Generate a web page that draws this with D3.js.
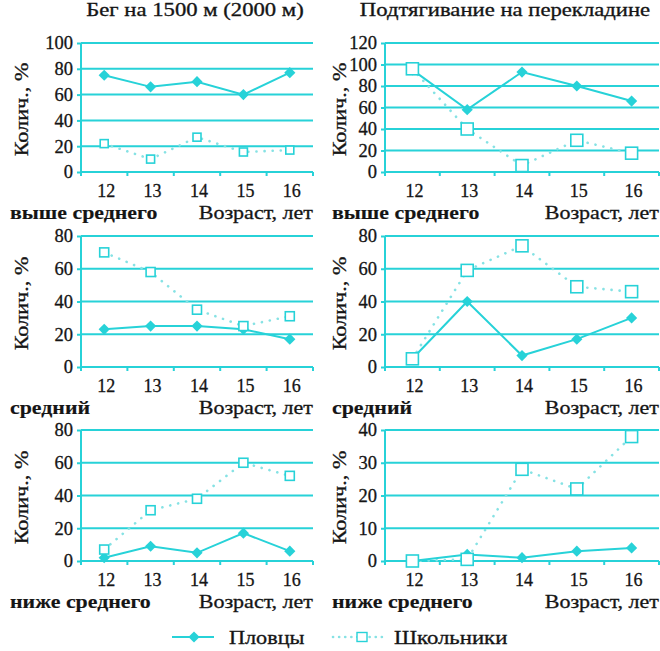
<!DOCTYPE html>
<html><head><meta charset="utf-8">
<script src="https://cdn.jsdelivr.net/npm/d3@7"></script>
<style>
html,body{margin:0;padding:0;background:#fff;}
svg text{font-family:'Liberation Serif','Times New Roman',serif;fill:#151515;}
</style></head>
<body><svg id="c" width="660" height="651"></svg>
<script>
// ---- data ----
const ages = ["12","13","14","15","16"];
const seriesNames = ["Пловцы","Школьники"];
const titles = ["Бег на 1500 м (2000 м)","Подтягивание на перекладине"];
const levelLabels = ["выше среднего","средний","ниже среднего"];
const xAxisLabel = "Возраст, лет";
const yAxisLabel = "Колич., %";

const runAboveSwim   = [75, 66, 70, 60, 77];
const runAboveSchool = [22, 10, 27, 15.5, 17];
const pullAboveSwim   = [95, 58, 93, 80, 66];
const pullAboveSchool = [96, 40, 6, 29.5, 17.5];
const runMidSwim   = [23, 25, 25, 23, 17];
const runMidSchool = [70, 58, 35, 25, 31];
const pullMidSwim   = [5, 40, 7, 17, 30];
const pullMidSchool = [5, 59, 74, 49, 46];
const runLowSwim   = [2, 9, 5, 17, 6];
const runLowSchool = [7, 31, 38, 60, 52];
const pullLowSwim   = [0, 2, 1, 3, 4];
const pullLowSchool = [0, 0.5, 28, 22, 38];

const yMax = [[100,120],[80,80],[80,40]];
const yStep = [[20,20],[20,20],[20,10]];
const swim = [[runAboveSwim,pullAboveSwim],[runMidSwim,pullMidSwim],[runLowSwim,pullLowSwim]];
const school = [[runAboveSchool,pullAboveSchool],[runMidSchool,pullMidSchool],[runLowSchool,pullLowSchool]];
const squareSize = [[8,12],[9,12],[9,12]];

// ---- layout ----
const C = "#27d2d8", CL = "#86e2e4", INK = "#151515";
const svg = d3.select("#c");
const cols = [{x0:81,x1:313,ylab:22,lvl:10},{x0:385,x1:659,ylab:340,lvl:332}];
const rows = [{top:43,bot:172},{top:236,bot:367},{top:430,bot:561}];

// stretched text helper (reference type is wide)
function txt(parent, x, y, s, o){
  const t = parent.append("text")
    .attr("transform",`translate(${x},${y})` + (o.rot?" rotate(-90)":"") + ` scale(${o.sx||1},1)`)
    .attr("text-anchor",o.anchor||"start")
    .style("font-size",(o.size||18)+"px")
    .style("font-weight",o.bold?"bold":"normal")
    .attr("stroke",INK).attr("stroke-width",o.bold?0.15:0.3)
    .text(s);
  if(o.dy) t.attr("dy",o.dy);
  return t;
}

titles.forEach((t,i)=>txt(svg, i?505:195, 16, t, {size:18, sx:1.26, anchor:"middle"}));

rows.forEach((r,ri)=>{
  cols.forEach((c,ci)=>{
    const g = svg.append("g");
    const x = d3.scaleBand().domain(ages).range([c.x0,c.x1]);
    const y = d3.scaleLinear().domain([0,yMax[ri][ci]]).range([r.bot,r.top]);
    const ticks = d3.range(0,yMax[ri][ci]+0.001,yStep[ri][ci]);
    g.selectAll("line.grid").data(ticks).join("line")
      .attr("x1",c.x0).attr("x2",c.x1).attr("y1",d=>y(d)).attr("y2",d=>y(d))
      .attr("stroke",C).attr("stroke-width",2);
    const ya = g.append("g").attr("transform",`translate(${c.x0},0)`)
      .call(d3.axisLeft(y).tickValues(ticks).tickSize(4).tickPadding(4).tickFormat(d3.format("d")));
    ya.attr("font-family",null);
    ya.select(".domain").attr("stroke",C).attr("stroke-width",2).attr("d",`M0,${r.top}V${r.bot+4}`);
    ya.selectAll(".tick line").attr("stroke",C).attr("stroke-width",2);
    ya.selectAll(".tick text").style("font-size","18.5px").attr("fill",INK)
      .attr("stroke",INK).attr("stroke-width",0.3);
    const bounds = ages.map(a=>x(a)).concat([c.x1]);
    g.selectAll("line.xt").data(bounds.slice(1)).join("line")
      .attr("x1",d=>d).attr("x2",d=>d).attr("y1",r.bot).attr("y2",r.bot+4)
      .attr("stroke",C).attr("stroke-width",2);
    const xa = g.append("g").attr("transform",`translate(0,${r.bot})`)
      .call(d3.axisBottom(x).tickSize(0).tickPadding(12));
    xa.attr("font-family",null);
    xa.select(".domain").remove();
    xa.selectAll(".tick text").style("font-size","18px").attr("fill",INK).attr("dx","2")
      .attr("stroke",INK).attr("stroke-width",0.3);
    // labels
    txt(g, c.ylab, (r.top+r.bot)/2+2, yAxisLabel, {size:18.5, sx:1.2, anchor:"middle", rot:true, dy:"0.35em"});
    txt(g, c.lvl, r.bot+47, levelLabels[ri], {size:19, sx:1.15, bold:true});
    txt(g, c.x1, r.bot+47, xAxisLabel, {size:18.5, sx:1.19, anchor:"end"});
    // series
    const cx = a=>x(a)+x.bandwidth()/2;
    const line = d3.line().x((d,i)=>cx(ages[i])).y(d=>y(d));
    g.append("path").attr("d",line(school[ri][ci])).attr("fill","none").attr("stroke",CL)
      .attr("stroke-width",2.6).attr("stroke-linecap","round").attr("stroke-dasharray","0.1,8");
    g.append("path").attr("d",line(swim[ri][ci])).attr("fill","none").attr("stroke",C).attr("stroke-width",2);
    g.selectAll("path.dia").data(swim[ri][ci]).join("path")
      .attr("d",d3.symbol(d3.symbolDiamond2,80))
      .attr("transform",(d,i)=>`translate(${cx(ages[i])},${y(d)})`).attr("fill",C);
    const s = squareSize[ri][ci];
    g.selectAll("rect.sq").data(school[ri][ci]).join("rect")
      .attr("x",(d,i)=>cx(ages[i])-s/2).attr("y",d=>y(d)-s/2).attr("width",s).attr("height",s)
      .attr("fill","#fff").attr("stroke",C).attr("stroke-width",1.6);
  });
});

// legend
const lg = svg.append("g");
const ly = 637;
lg.append("line").attr("x1",172).attr("x2",214).attr("y1",ly).attr("y2",ly).attr("stroke",C).attr("stroke-width",2);
lg.append("path").attr("d",d3.symbol(d3.symbolDiamond2,80)).attr("transform",`translate(194,${ly})`).attr("fill",C);
txt(lg, 229, ly+7, seriesNames[0], {size:19, sx:1.17});
lg.append("line").attr("x1",333).attr("x2",386).attr("y1",ly).attr("y2",ly).attr("stroke",CL)
  .attr("stroke-width",2.6).attr("stroke-linecap","round").attr("stroke-dasharray","0.1,6");
lg.append("rect").attr("x",357).attr("y",ly-4.5).attr("width",10).attr("height",9).attr("fill","#fff").attr("stroke",C).attr("stroke-width",1.4);
txt(lg, 394, ly+7, seriesNames[1], {size:19, sx:1.2});
</script></body></html>
